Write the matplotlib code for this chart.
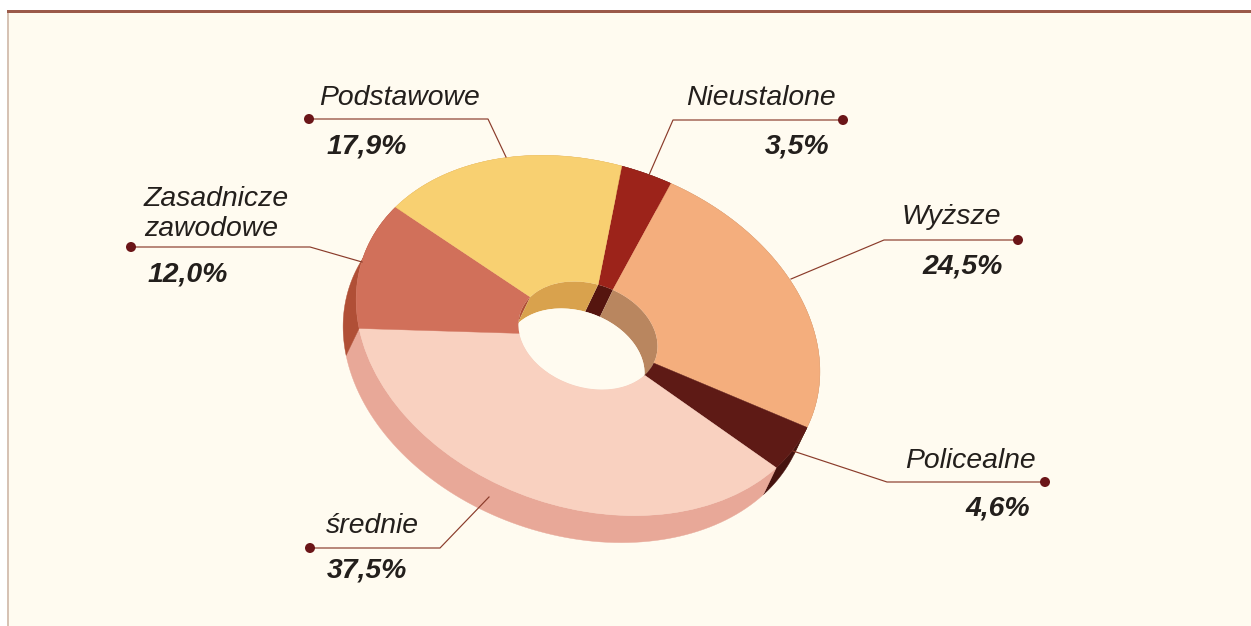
import numpy as np
import matplotlib
matplotlib.use("Agg")
import matplotlib.pyplot as plt
from matplotlib.patches import Wedge, Ellipse, Polygon, Rectangle, Circle
from matplotlib.transforms import Affine2D

labels = ["Nieustalone", "Wyższe", "Policealne", "średnie", "Zasadnicze\nzawodowe", "Podstawowe"]
values = [3.5, 24.5, 4.6, 37.5, 12.0, 17.9]
top_colors = ["#9c231a", "#f4ae7d", "#5e1a15", "#f9d1c0", "#d1705a", "#f8d071"]
side_colors = ["#55150f", "#b9865f", "#45130f", "#e8a898", "#b04f36", "#d9a24d"]

# ring geometry, in pixels of the picture
cx, cy = 588, 335.5
a, b = 238, 172
tilt = 19
hole = 0.3
depth = (-13, 27)
start = -95.6

# dot, elbow, end of each leader
leaders = [
    [(843, 120), (673, 120), (649, 175)],
    [(1018, 240), (884, 240), (791, 279)],
    [(1045, 482), (887, 482), (793, 451)],
    [(310, 548), (440, 548), (489, 497)],
    [(131, 247), (310, 247), (362, 262)],
    [(309, 119), (488, 119), (506, 157)],
]
name_pos = [(836, 105, "right"), (1001, 224, "right"), (1036, 468, "right"),
            (326, 533, "left"), (144, 236, "left"), (319, 105, "left")]
value_pos = [(829, 153, "right"), (1003, 274, "right"), (1030, 516, "right"),
             (327, 578, "left"), (148, 282, "left"), (327, 153, "left")]

plt.rcParams["font.family"] = ["Liberation Sans", "DejaVu Sans"]

fig = plt.figure(figsize=(12.51, 6.26), dpi=100, facecolor="white")
ax = fig.add_axes([0, 0, 1, 1])
ax.set_xlim(0, 1251)
ax.set_ylim(626, 0)
ax.axis("off")

ax.add_patch(Rectangle((8, 12), 1243, 614, fc="#fffbf0", ec="none", zorder=0))
ax.add_patch(Rectangle((7, 12), 2, 614, fc="#d6c2b4", ec="none", zorder=1))
ax.add_patch(Rectangle((7, 10), 1244, 3, fc="#9b5a4a", ec="none", zorder=1))

ring = Affine2D().scale(a, b).rotate_deg(tilt).translate(cx, cy)
shift = Affine2D().translate(*depth)


def wall(th1, th2, r):
    t = np.radians(np.linspace(th1, th2, 80))
    pts = ring.transform(np.column_stack([r * np.cos(t), r * np.sin(t)]))
    return np.vstack([pts, shift.transform(pts)[::-1]])


angles = start + np.cumsum([0] + values) * 3.6

# outer wall, top face covers the far side
for i in range(len(values)):
    ax.add_patch(Polygon(wall(angles[i], angles[i + 1], 1.0), fc=side_colors[i],
                         ec=side_colors[i], lw=0.3, zorder=2))

for i in range(len(values)):
    ax.add_patch(Wedge((0, 0), 1.0, angles[i], angles[i + 1], width=1 - hole, fc=top_colors[i],
                       ec=top_colors[i], lw=0.3, transform=ring + ax.transData, zorder=3))

# inner wall seen through the hole, then the opening itself
opening = Ellipse((0, 0), 2 * hole, 2 * hole, fc="none", ec="none", transform=ring + ax.transData)
ax.add_patch(opening)
for i in range(len(values)):
    p = Polygon(wall(angles[i], angles[i + 1], hole), fc=side_colors[i], ec="none", zorder=4)
    ax.add_patch(p)
    p.set_clip_path(opening)
white = Ellipse((0, 0), 2 * hole, 2 * hole, fc="#fffbf0", ec="none",
                transform=ring + shift + ax.transData, zorder=5)
ax.add_patch(white)
white.set_clip_path(opening)

for i, line in enumerate(leaders):
    xs, ys = zip(*line)
    ax.plot(xs, ys, color="#8a3b2a", lw=0.85, zorder=6)
    ax.add_patch(Circle(line[0], 5, fc="#6b1518", ec="none", zorder=7))

    x, y, ha = name_pos[i]
    ax.text(x, y, labels[i], ha=ha, va="baseline", style="italic", fontsize=20.4,
            color="#231f1c", linespacing=1.2, zorder=8)
    x, y, ha = value_pos[i]
    ax.text(x, y, f"{values[i]:.1f}%".replace(".", ","), ha=ha, va="baseline", style="italic",
            weight="bold", fontsize=20.4, color="#231f1c", zorder=8)

fig.savefig("out.png", dpi=100)
